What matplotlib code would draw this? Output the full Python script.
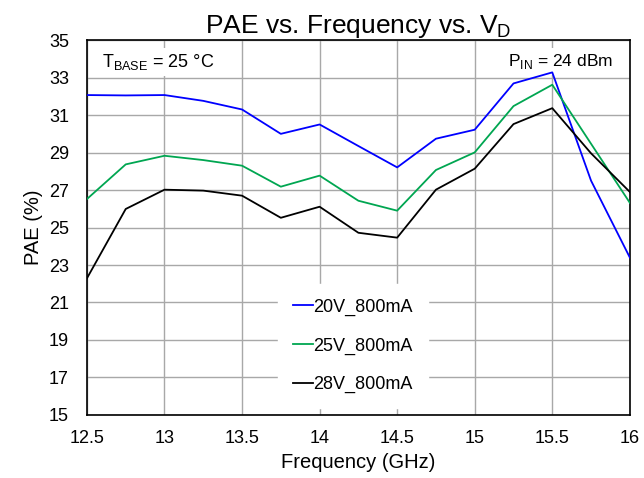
import matplotlib.pyplot as plt
import numpy as np

plt.rcParams['font.family'] = ['Liberation Sans', 'DejaVu Sans']

freq = [12.5, 12.75, 13, 13.25, 13.5, 13.75, 14, 14.25, 14.5, 14.75, 15, 15.25, 15.5, 15.75, 16]
pae_20v = [32.07, 32.05, 32.07, 31.76, 31.3, 30.0, 30.5, 29.35, 28.21, 29.74, 30.22, 32.69, 33.28, 27.5, 23.4]
pae_25v = [26.52, 28.37, 28.83, 28.6, 28.3, 27.18, 27.77, 26.43, 25.9, 28.07, 29.01, 31.48, 32.62, 29.47, 26.32]
pae_28v = [22.29, 25.99, 27.02, 26.97, 26.7, 25.52, 26.11, 24.72, 24.46, 27.02, 28.14, 30.52, 31.37, 28.96, 26.9]

fig = plt.figure(figsize=(6.44, 4.78), dpi=100)
ax = fig.add_axes([0.135, 0.132, 0.843, 0.784])

ax.plot(freq, pae_20v, color='#0000ff', lw=1.3, label='20V_800mA', zorder=3)
ax.plot(freq, pae_25v, color='#00a651', lw=1.3, label='25V_800mA', zorder=3)
ax.plot(freq, pae_28v, color='black', lw=1.3, label='28V_800mA', zorder=3)

ax.set_xlim(12.5, 16)
ax.set_ylim(15, 35)
ax.set_xticks(np.arange(12.5, 16.01, 0.5))
ax.set_xticklabels(['12.5', '13', '13.5', '14', '14.5', '15', '15.5', '16'])
ax.set_yticks(np.arange(15, 36, 2))
ax.grid(True, color='#a8a8a8', lw=1.0)
ax.tick_params(length=0, labelsize=13)
ax.tick_params(axis='y', pad=13)
ax.tick_params(axis='x', pad=11)
for s in ax.spines.values():
    s.set_color('black')
    s.set_linewidth(1.2)

ax.set_xlabel('Frequency (GHz)', fontsize=14.5, labelpad=4)
ax.set_ylabel('PAE (%)', fontsize=14.5, labelpad=4)
ax.set_title('PAE vs. Frequency vs. V$_\\mathregular{D}$', fontsize=19, pad=4)

ax.text(12.6, 33.85, 'T$_\\mathregular{BASE}$ = 25 °C', fontsize=13, va='center', zorder=2,
        bbox=dict(facecolor='white', edgecolor='none', pad=3))
ax.text(15.89, 33.85, 'P$_\\mathregular{IN}$ = 24 dBm', fontsize=12.5, va='center', ha='right', zorder=2,
        bbox=dict(facecolor='white', edgecolor='none', pad=3))

leg = ax.legend(loc='center', bbox_to_anchor=(0.49, 0.184), frameon=True, fontsize=13,
                handlelength=1.1, handletextpad=0.05, labelspacing=1.2, borderpad=0.5)
leg.get_frame().set_edgecolor('white')
leg.get_frame().set_alpha(1)
leg.get_frame().set_boxstyle('square')

fig.savefig('out.png', dpi=100)
